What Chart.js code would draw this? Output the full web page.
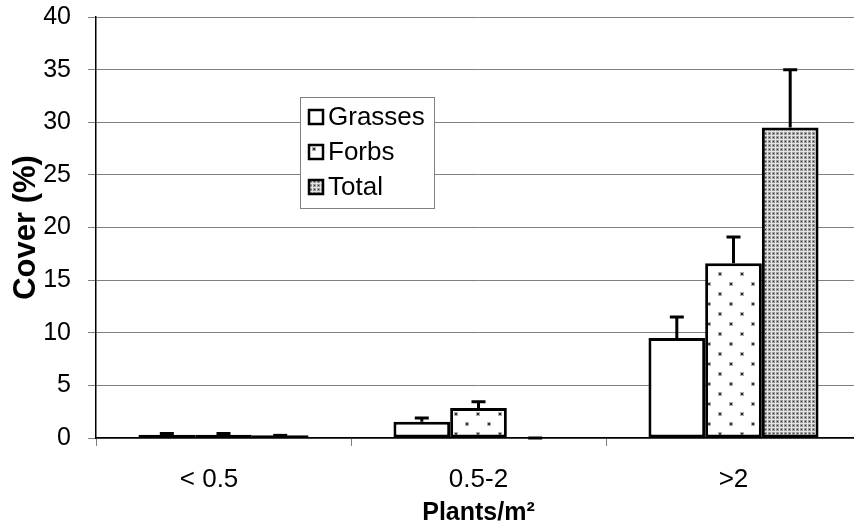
<!DOCTYPE html>
<html><head><meta charset="utf-8">
<script src="https://cdn.jsdelivr.net/npm/chart.js@4/dist/chart.umd.min.js"></script>
<style>
html,body{margin:0;padding:0;background:#fff;}
#wrap{width:854px;height:530px;overflow:hidden;position:relative;}
canvas{display:block;}
</style></head>
<body><div id="wrap"><canvas id="c" width="866" height="530"></canvas></div>
<script>
const categories = ['< 0.5\u00a0\u00a0\u00a0\u00a0', '0.5-2', '>2'];
const seriesNames = ['Grasses', 'Forbs', 'Total'];
const grasses = [0.3, 1.55, 9.5];
const forbs = [0.3, 2.85, 16.6];
const total = [0.25, 0, 29.5];
const grassesErr = [0.12, 0.35, 2.0];
const forbsErr = [0.12, 0.6, 2.5];
const totalErr = [0, 0, 5.5];
const yTicks = [0, 5, 10, 15, 20, 25, 30, 35, 40];

function makePattern(kind){
  const c = document.createElement('canvas');
  const ctx = c.getContext('2d');
  if(kind==='white'){ c.width=4;c.height=4; ctx.fillStyle='#fff'; ctx.fillRect(0,0,4,4); }
  else if(kind==='sparse'){
    c.width=22;c.height=20;
    ctx.fillStyle='#fff';ctx.fillRect(0,0,22,20);
    ctx.fillStyle='#b0b0b0';
    ctx.fillRect(3,2,4,4); ctx.fillRect(14,12,4,4);
    ctx.fillStyle='#2a2a2a';
    ctx.fillRect(4,3,2,2); ctx.fillRect(15,13,2,2);
  } else {
    c.width=4;c.height=4;
    ctx.fillStyle='#e6e6e6';ctx.fillRect(0,0,4,4);
    ctx.fillStyle='#9a9a9a';ctx.fillRect(0,0,3,3);
    ctx.fillStyle='#3c3c3c';ctx.fillRect(1,1,1,1);
  }
  return document.createElement('canvas').getContext('2d').createPattern(c,'repeat');
}
const fills = [makePattern('white'), makePattern('sparse'), makePattern('dense')];
const errs = [grassesErr, forbsErr, totalErr];

const errorBars = {
  id:'errorBars',
  afterDatasetsDraw(chart){
    const ctx = chart.ctx, y = chart.scales.y;
    ctx.save();
    ctx.strokeStyle='#000'; ctx.lineWidth=3;
    chart.data.datasets.forEach((ds,i)=>{
      const meta = chart.getDatasetMeta(i);
      meta.data.forEach((bar,j)=>{
        const v = ds.data[j], e = errs[i][j];
        const y0 = y.getPixelForValue(v), y1 = y.getPixelForValue(v+e);
        ctx.beginPath();
        ctx.moveTo(bar.x, y0); ctx.lineTo(bar.x, y1);
        ctx.moveTo(bar.x-7, y1); ctx.lineTo(bar.x+7, y1);
        ctx.stroke();
      });
    });
    ctx.restore();
  }
};

const legendBox = {
  id:'legendBox',
  afterDraw(chart){
    const ctx = chart.ctx, a = chart.chartArea;
    const x = a.left + 204, yTop = a.top + 80, w = 134, h = 111;
    ctx.save();
    ctx.fillStyle='#fff'; ctx.fillRect(x,yTop,w,h);
    ctx.strokeStyle='#808080'; ctx.lineWidth=1;
    ctx.strokeRect(x+0.5,yTop+0.5,w,h);
    ctx.font='26px "Liberation Sans", Arial, sans-serif';
    ctx.textBaseline='middle'; ctx.textAlign='left';
    seriesNames.forEach((n,i)=>{
      const cy = yTop + 20 + i*35;
      ctx.save();
      ctx.translate(x+9, cy-7);
      ctx.fillStyle=fills[i];
      ctx.fillRect(0, 0, 14, 14);
      ctx.strokeStyle='#000'; ctx.lineWidth=2.5;
      ctx.strokeRect(0, 0, 14, 14);
      ctx.restore();
      ctx.fillStyle='#000';
      ctx.fillText(n, x+28, cy+1);
    });
    ctx.restore();
  }
};

new Chart(document.getElementById('c'), {
  type:'bar',
  data:{
    labels: categories,
    datasets:[
      {label:seriesNames[0], data:grasses, backgroundColor:fills[0], borderColor:'#000', borderWidth:3, borderSkipped:false},
      {label:seriesNames[1], data:forbs, backgroundColor:fills[1], borderColor:'#000', borderWidth:3, borderSkipped:false},
      {label:seriesNames[2], data:total, backgroundColor:fills[2], borderColor:'#000', borderWidth:3, borderSkipped:false}
    ]
  },
  options:{
    responsive:false, animation:false,
    devicePixelRatio:1,
    categoryPercentage:0.667, barPercentage:1.0,
    layout:{padding:{top:17,right:5,left:0,bottom:0}},
    plugins:{legend:{display:false}, tooltip:{enabled:false}},
    scales:{
      x:{
        grid:{display:true, drawOnChartArea:false, drawTicks:true, tickLength:8, color:'#808080', offset:true},
        border:{display:true, color:'#000', width:1.5},
        ticks:{color:'#000', padding:18, font:{family:'"Liberation Sans", Arial, sans-serif', size:26}},
        title:{display:true, text:'Plants/m²', color:'#000', padding:{top:0,bottom:2}, font:{family:'"Liberation Sans", Arial, sans-serif', size:25, weight:'bold'}},
        afterFit(s){ s.height = 92; s.paddingLeft = 0; s.paddingRight = 0; }
      },
      y:{
        min:0, max:40,
        afterBuildTicks(s){ s.ticks = yTicks.map(v=>({value:v})); },
        grid:{color:'#808080', lineWidth:1, tickLength:8, drawTicks:true},
        border:{display:true, color:'#000', width:1.5},
        ticks:{color:'#000', padding:17, font:{family:'"Liberation Sans", Arial, sans-serif', size:25}},
        title:{display:true, text:'Cover (%)', color:'#000', padding:{top:8,bottom:0}, font:{family:'"Liberation Sans", Arial, sans-serif', size:31, weight:'bold'}},
        afterFit(s){ s.width = 96; s.paddingTop = 0; s.paddingBottom = 0; }
      }
    }
  },
  plugins:[errorBars, legendBox]
});
</script></body></html>
